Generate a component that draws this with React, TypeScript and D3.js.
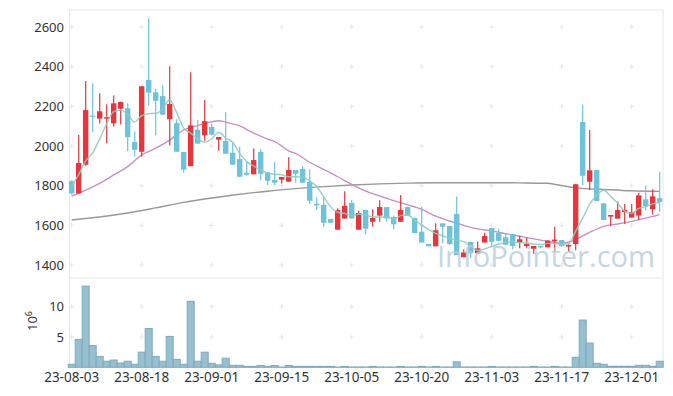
import React from 'react';
import * as d3 from 'd3';

// daily candles, 23-08-03 .. 23-12-07
const opens = [1823,1761,1906,2153,2138,2138,2114,2188,2190,2020,1971,2333,2271,2251,2135,2115,1970,1898,2082,2054,2096,2032,2025,1966,1934,1865,1857,1970,1867,1829,1830,1820,1879,1884,1819,1709,1703,1632,1578,1634,1713,1578,1677,1618,1649,1692,1642,1618,1692,1637,1568,1506,1494,1610,1597,1657,1439,1516,1459,1513,1586,1561,1540,1556,1515,1496,1482,1496,1489,1520,1526,1493,1506,2121,1820,1879,1711,1644,1634,1667,1639,1649,1731,1681,1737];
const highs = [1826,2055,2328,2316,2266,2210,2254,2225,2215,2073,2302,2644,2289,2306,2402,2135,1970,2372,2131,2232,2114,2045,2170,2015,1996,1924,1988,1983,1867,1921,1844,1943,1879,1899,1883,1741,1741,1632,1686,1772,1728,1674,1677,1681,1726,1692,1650,1753,1692,1640,1694,1506,1610,1610,1597,1746,1480,1516,1519,1563,1586,1580,1560,1556,1548,1539,1496,1496,1523,1593,1526,1505,1807,2208,2081,1879,1711,1652,1720,1708,1708,1764,1801,1782,1870];
const lows = [1756,1758,1900,2069,2114,2014,2097,2108,1973,1947,1946,2206,2054,2158,2003,1971,1865,1898,2012,2027,2057,1976,1961,1906,1845,1850,1857,1829,1802,1802,1811,1820,1815,1815,1708,1677,1592,1613,1578,1634,1635,1578,1555,1593,1618,1618,1580,1618,1650,1561,1513,1494,1494,1509,1500,1450,1439,1434,1459,1513,1490,1521,1500,1480,1484,1484,1457,1485,1489,1467,1490,1467,1475,1803,1778,1723,1627,1595,1634,1607,1639,1627,1676,1654,1667];
const closes = [1761,1914,2181,2150,2175,2145,2215,2222,2044,1981,2301,2269,2228,2158,2212,1971,1881,2104,2012,2125,2057,2045,1961,1906,1845,1855,1929,1860,1825,1815,1844,1879,1860,1815,1724,1701,1613,1613,1677,1698,1635,1662,1583,1637,1692,1635,1605,1677,1650,1561,1513,1494,1575,1593,1506,1450,1464,1459,1484,1546,1517,1522,1502,1496,1530,1506,1496,1489,1523,1528,1496,1501,1807,1850,1877,1723,1627,1652,1677,1677,1667,1751,1697,1746,1718];
// volume, millions
const volumes = [0.5,4.6,13.4,3.6,1.8,1.0,1.2,0.7,1.0,0.5,2.5,6.4,1.8,1.0,5.1,1.3,0.5,10.9,1.0,2.5,0.66,0.4,1.5,0.33,0.33,0.15,0.15,0.3,0.15,0.3,0.05,0.3,0.15,0.15,0.15,0.15,0.15,0.15,0.05,0.15,0.05,0.05,0.05,0.15,0.05,0.05,0.05,0.15,0.05,0.05,0.15,0.05,0.15,0.05,0.05,0.9,0.05,0.05,0.05,0.05,0.15,0.05,0.05,0.05,0.05,0.05,0.15,0.05,0.05,0.15,0.05,0.05,1.65,7.8,4.0,0.66,0.5,0.17,0.17,0.17,0.17,0.33,0.33,0.17,1.0];

// moving averages
const ma5 = [1798,1856,1925,1965,2036,2112,2173,2181,2160,2121,2153,2163,2165,2187,2234,2168,2090,2065,2036,2019,2036,2069,2040,2019,1963,1922,1899,1879,1863,1857,1855,1845,1845,1843,1824,1796,1743,1693,1666,1660,1647,1657,1651,1643,1642,1642,1630,1649,1652,1626,1601,1579,1559,1547,1536,1524,1518,1494,1473,1481,1494,1506,1514,1517,1513,1511,1506,1503,1509,1508,1506,1507,1571,1636,1706,1752,1777,1746,1711,1671,1660,1685,1694,1708,1716];
const ma20Idx = [0,2,4,6,8,10,12,14,16,18,20,21,22,24,26,28,29,30,31,32,34,36,38,40,42,44,46,48,50,52,54,56,58,60,62,64,66,68,70,72,74,76,78,80,82,84];
const ma20 = [1748,1778,1812,1854,1896,1955,1989,2030,2081,2103,2122,2127,2120,2101,2065,2035,2022,2000,1975,1962,1918,1882,1845,1806,1772,1748,1725,1703,1681,1646,1622,1600,1582,1572,1558,1545,1532,1520,1510,1528,1565,1595,1607,1620,1636,1654];
const ma60Idx = [0,4,8,12,16,20,24,28,32,36,40,44,48,52,56,60,64,68,70,72,76,80,84];
const ma60 = [1627,1642,1662,1688,1716,1738,1757,1772,1785,1795,1803,1809,1813,1815,1815,1815,1814,1812,1800,1789,1781,1774,1771];

const xTickIdx = [0,10,20,30,40,50,60,70,80];
const xTickLabels = ['23-08-03','23-08-18','23-09-01','23-09-15','23-10-05','23-10-20','23-11-03','23-11-17','23-12-01'];
const priceTicks = [1400,1600,1800,2000,2200,2400,2600];
const volTicks = [5,10];

const W = 673, H = 396;
const left = 69.5, right = 663;
const pTop = 10, pBot = 278, vBot = 367.3;
const RED = '#e8353b', BLUE = '#6cc3da';
const font = '"Noto Sans", "Liberation Sans", sans-serif';

export default function App() {
  const x = d3.scaleLinear().domain([0, 84]).range([71.7, 659.7]);
  const y = d3.scaleLinear().domain([1400, 2600]).range([265, 27]);
  const yv = d3.scaleLinear().domain([0, 10]).range([vBot, 306.7]);
  const bw = 5.4;

  const line = d3.line<[number, number]>()
    .x(d => x(d[0])).y(d => y(d[1]))
    .curve(d3.curveMonotoneX);

  const cross = (cx: number, cy: number, k: string) => (
    <g key={k} stroke="#e6e6e6" strokeWidth={1}>
      <line x1={cx - 2.5} x2={cx + 2.5} y1={cy} y2={cy} />
      <line x1={cx} x2={cx} y1={cy - 2.5} y2={cy + 2.5} />
    </g>
  );

  return (
    <div style={{position: 'absolute', left: 0, top: 0}}>
      <svg width={W} height={H} style={{display: 'block', background: '#fff'}}>
        {/* frame */}
        <g stroke="#e6e6e6" strokeWidth={1} fill="none">
          <line x1={left} x2={right} y1={pTop} y2={pTop} />
          <line x1={left} x2={right} y1={pBot} y2={pBot} />
          <line x1={left} x2={left} y1={pTop} y2={vBot} />
          <line x1={right} x2={right} y1={pTop} y2={vBot} />
        </g>
        {/* grid crosses */}
        {xTickIdx.map(i => priceTicks.map(v => cross(x(i), y(v), `p${i}-${v}`)))}
        {xTickIdx.map(i => volTicks.map(v => cross(x(i), yv(v), `v${i}-${v}`)))}

        {/* y labels */}
        <g fontFamily={font} fontSize={13} fill="#333" textAnchor="end">
          {priceTicks.map(v => (
            <text key={v} x={64} y={y(v)} dy="0.35em">{v}</text>
          ))}
          {volTicks.map(v => (
            <text key={'v' + v} x={64} y={yv(v)} dy="0.35em">{v}</text>
          ))}
        </g>
        <text transform="translate(37,321) rotate(-90)" textAnchor="middle" fontFamily={font} fontSize={13} fill="#333">
          10<tspan dy="-5" fontSize={9}>6</tspan>
        </text>

        {/* x labels */}
        <g fontFamily={font} fontSize={13.5} fill="#333" textAnchor="middle">
          {xTickIdx.map((i, k) => (
            <text key={i} x={x(i)} y={382}>{xTickLabels[k]}</text>
          ))}
        </g>

        {/* volume */}
        <g fill="#96bfd0" stroke="#7eaabd" strokeWidth={1}>
          {volumes.map((v, i) => (
            <rect key={i} x={x(i) - 3.5} width={7} y={yv(v)} height={vBot - yv(v)} />
          ))}
        </g>

        {/* moving averages */}
        <path d={line(ma60Idx.map((i, k) => [i, ma60[k]]) as [number, number][]) || ''} fill="none" stroke="#999" strokeWidth={1.4} />
        <path d={line(ma20Idx.map((i, k) => [i, ma20[k]]) as [number, number][]) || ''} fill="none" stroke="#c98fc6" strokeWidth={1.4} />

        {/* candles */}
        {closes.map((c, i) => {
          const o = opens[i];
          const up = c >= o;
          const col = up ? RED : BLUE;
          const top = y(Math.max(o, c));
          const h = Math.max(1.2, Math.abs(y(o) - y(c)));
          return (
            <g key={i}>
              <line x1={x(i)} x2={x(i)} y1={y(highs[i])} y2={y(lows[i])} stroke={col} strokeWidth={1.2} />
              <rect x={x(i) - bw / 2} width={bw} y={top} height={h} fill={col} />
            </g>
          );
        })}

        <path d={line(ma5.map((v, i) => [i, v]) as [number, number][]) || ''} fill="none" stroke="#8ccdc0" strokeWidth={1.4} opacity={0.9} />

        {/* watermark */}
        <text x={437} y={267} fontFamily='"Open Sans", "Noto Sans", sans-serif' fontSize={30} fill="#b6cddb" opacity={0.8} textLength={218} lengthAdjust="spacingAndGlyphs">InfoPointer.com</text>
      </svg>
    </div>
  );
}
